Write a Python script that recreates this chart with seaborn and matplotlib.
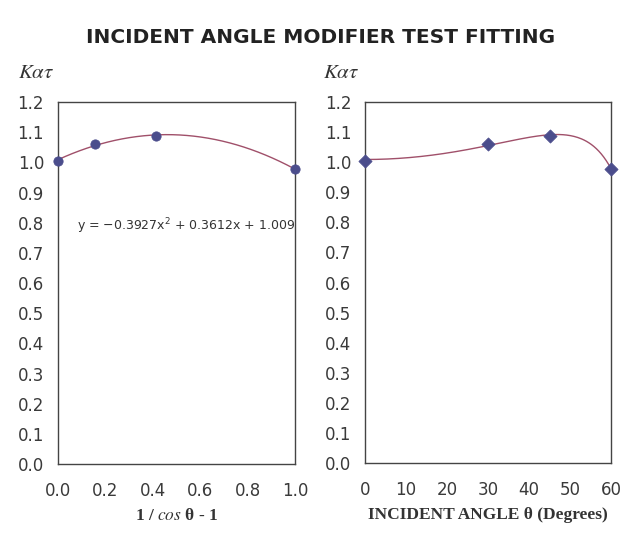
import numpy as np
import pandas as pd
import matplotlib.pyplot as plt
import seaborn as sns

# measured points
angle_deg = [0, 30, 45, 60]
x_cos = [0.0, 0.155, 0.414, 1.0]
k_meas = [1.005, 1.062, 1.087, 0.978]

# fit shown on the chart: y = a x^2 + b x + c
fit_coef = [-0.3927, 0.3612, 1.009]

x_ticks = [0.0, 0.2, 0.4, 0.6, 0.8, 1.0]
deg_ticks = [0, 10, 20, 30, 40, 50, 60]
y_ticks = [0.0, 0.1, 0.2, 0.3, 0.4, 0.5, 0.6, 0.7, 0.8, 0.9, 1.0, 1.1, 1.2]

sns.set_style("white")
plt.rcParams["font.family"] = ["DejaVu Sans"]

pt_color = "#4b4d8c"
line_color = "#a0506a"
edge = "#444444"

fig = plt.figure(figsize=(6.34, 5.41), dpi=100)
ax1 = fig.add_axes([0.0915, 0.1423, 0.374, 0.669])
ax2 = fig.add_axes([0.576, 0.1441, 0.388, 0.6673])

pts = pd.DataFrame({"deg": angle_deg, "x": x_cos, "k": k_meas})

# left: fit curve vs 1/cos - 1
xs = np.linspace(0, 1, 200)
curve1 = pd.DataFrame({"x": xs, "k": np.polyval(fit_coef, xs)})
sns.lineplot(data=curve1, x="x", y="k", ax=ax1, color=line_color, lw=1.0)
sns.scatterplot(data=pts, x="x", y="k", ax=ax1, color=pt_color, marker="o",
                s=45, edgecolor=pt_color, zorder=3, clip_on=False)

# right: same fit mapped to angle
ds = np.linspace(0, 60, 200)
curve2 = pd.DataFrame({"deg": ds,
                       "k": np.polyval(fit_coef, 1 / np.cos(np.radians(ds)) - 1)})
sns.lineplot(data=curve2, x="deg", y="k", ax=ax2, color=line_color, lw=1.0)
sns.scatterplot(data=pts, x="deg", y="k", ax=ax2, color=pt_color, marker="D",
                s=45, edgecolor=pt_color, zorder=3, clip_on=False)

for ax, xt, xl in [(ax1, x_ticks, (0, 1)), (ax2, deg_ticks, (0, 60))]:
    ax.set_xlim(*xl)
    ax.set_ylim(0, 1.2)
    ax.set_xticks(xt)
    ax.set_yticks(y_ticks)
    ax.set_yticklabels([f"{v:.1f}" for v in y_ticks])
    ax.tick_params(direction="in", length=3, width=0.6, color="#aaaaaa",
                   labelsize=12, labelcolor="#3a3a3a", pad=10)
    ax.tick_params(axis="x", pad=13)
    for s in ax.spines.values():
        s.set_color(edge)
        s.set_linewidth(1.0)
    ax.set_ylabel("")
    ax.text(-0.17, 1.055, r"$K\alpha\tau$", transform=ax.transAxes,
            fontsize=15, color="#333333", ha="left", va="bottom",
            math_fontfamily="stix")

ax1.set_xticklabels([f"{v:.1f}" for v in x_ticks])
ax2.set_xticklabels([str(v) for v in deg_ticks])

ax1.set_xlabel(r"1 / $\it{cos}$ θ - 1", fontsize=12.5, fontweight="bold",
               family="Liberation Serif", color="#333333", labelpad=6,
               math_fontfamily="stix")
ax2.set_xlabel("INCIDENT ANGLE θ (Degrees)", fontsize=12.5, fontweight="bold",
               family="Liberation Serif", color="#333333", labelpad=6)

ax1.text(0.08, 0.79, r"y = −0.3927x$^2$ + 0.3612x + 1.009", fontsize=9,
         color="#333333", va="center")

fig.text(0.505, 0.93, "INCIDENT ANGLE MODIFIER TEST FITTING", ha="center",
         va="center", fontsize=14.5, fontweight="bold", color="#222222")

fig.savefig("out.png", dpi=100)
